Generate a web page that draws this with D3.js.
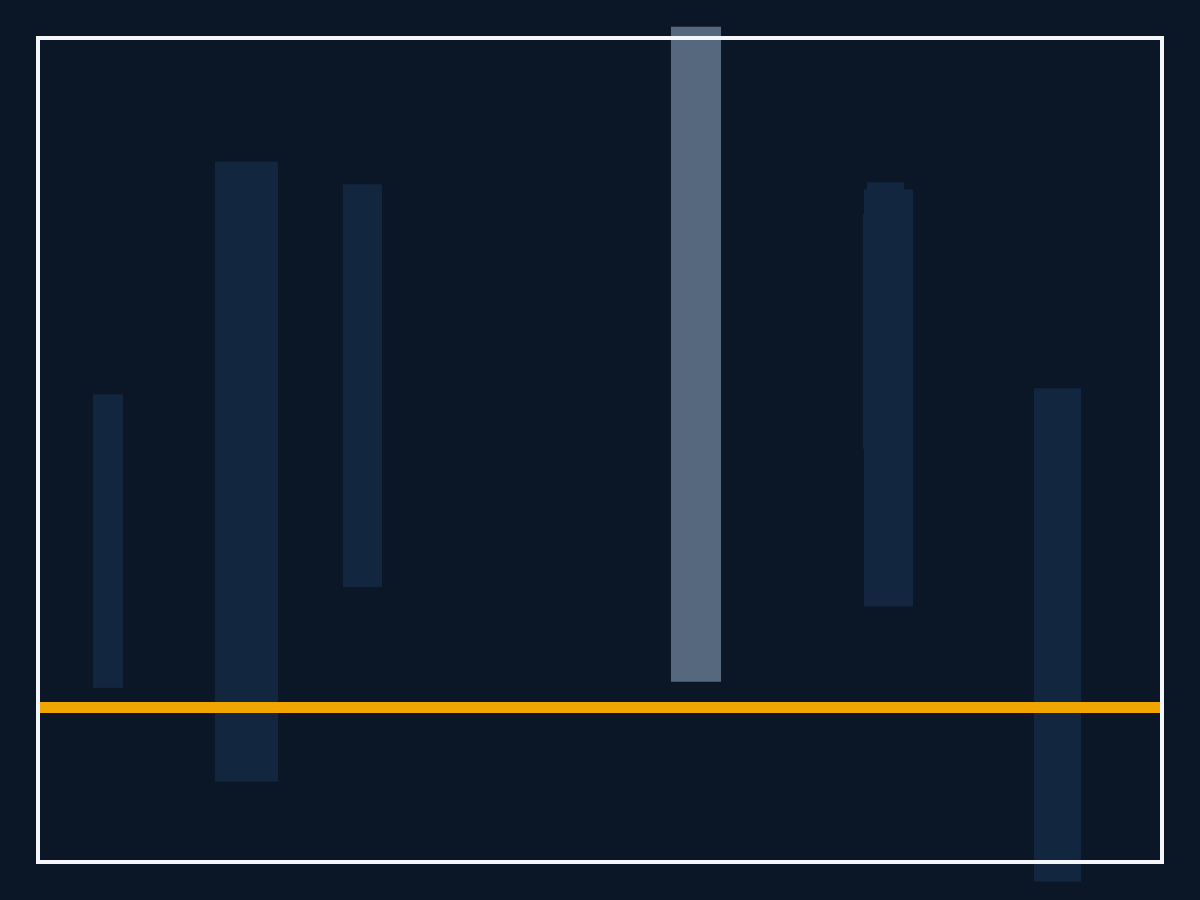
<!DOCTYPE html>
<html>
<head>
<meta charset="utf-8">
<script src="https://cdn.jsdelivr.net/npm/d3@7"></script>
<style>
  html, body { margin: 0; padding: 0; background: #0b1626; }
  svg { display: block; }
</style>
</head>
<body>
<svg id="chart" width="1200" height="900"></svg>
<script>
// floating bars: x extent and low/high values
const barIds = ["a", "b", "c", "d", "e1", "e2", "e3", "f"];
const barX0 = [5.3, 17.5, 30.3, 63.1, 82.3, 82.7, 82.4, 99.4];
const barX1 = [8.3, 23.8, 34.2, 68.1, 86.5, 86.4, 87.3, 104.1];
const barLow = [1.9, -7.2, 11.7, 2.5, 25.1, 30.0, 9.8, -16.9];
const barHigh = [30.4, 53.0, 50.8, 66.1, 47.9, 51.0, 50.3, 31.0];
const highlighted = ["d"];
const baseline = 0;

const svg = d3.select("#chart");
const svgWidth = 1200;
const svgHeight = 900;

svg.append("rect")
  .attr("width", svgWidth)
  .attr("height", svgHeight)
  .attr("fill", "#0b1626");

const x = d3.scaleLinear().domain([0, 112]).range([40, 1160]);
const y = d3.scaleLinear().domain([-15, 65]).range([862, 38]);

const bars = barIds.map((id, i) => ({
  id: id,
  x0: barX0[i],
  x1: barX1[i],
  lo: barLow[i],
  hi: barHigh[i]
}));

svg.append("g")
  .selectAll("rect")
  .data(bars)
  .enter()
  .append("rect")
  .attr("x", d => x(d.x0))
  .attr("width", d => x(d.x1) - x(d.x0))
  .attr("y", d => y(d.hi))
  .attr("height", d => y(d.lo) - y(d.hi))
  .attr("fill", d => highlighted.includes(d.id) ? "#56687e" : "#12263f");

// baseline
svg.append("line")
  .attr("x1", x.range()[0])
  .attr("x2", x.range()[1])
  .attr("y1", y(baseline))
  .attr("y2", y(baseline))
  .attr("stroke", "#f0a500")
  .attr("stroke-width", 11);

// frame
svg.append("rect")
  .attr("x", 38)
  .attr("y", 38)
  .attr("width", 1124)
  .attr("height", 824)
  .attr("fill", "none")
  .attr("stroke", "#f4f6f9")
  .attr("stroke-width", 4);
</script>
</body>
</html>
